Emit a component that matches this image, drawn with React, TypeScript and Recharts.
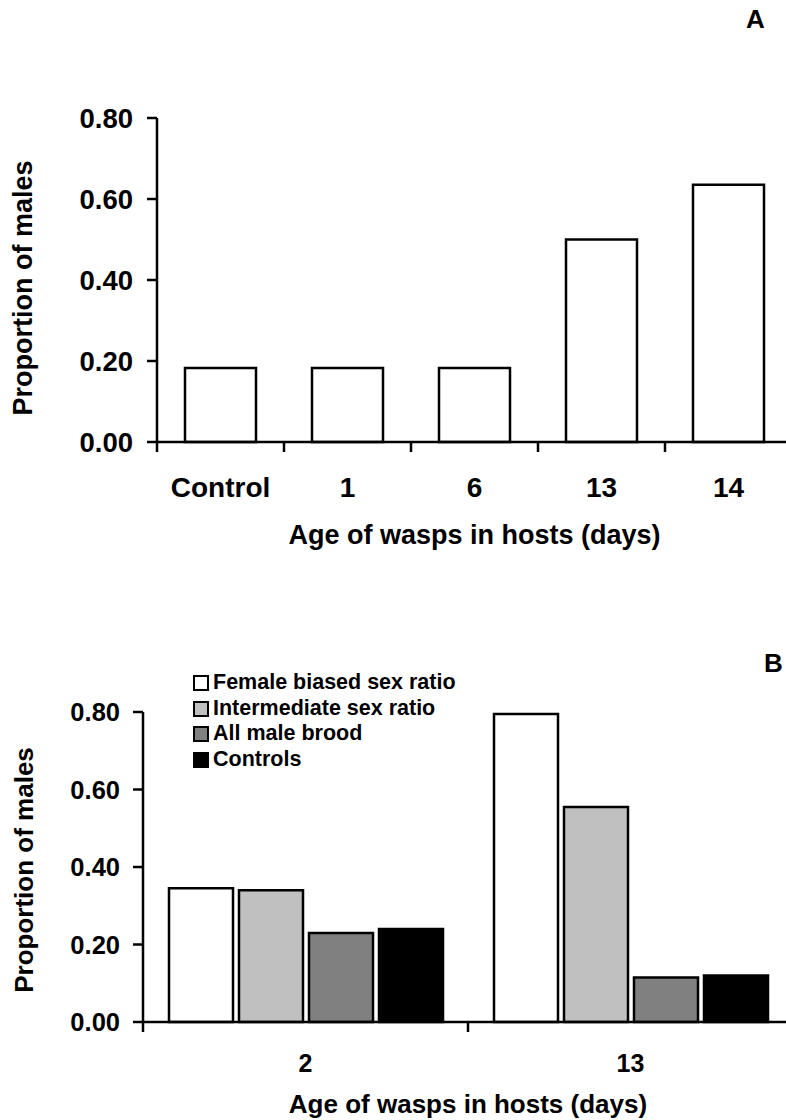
import React from 'react';
import { BarChart, Bar, XAxis, YAxis, Legend, Label } from 'recharts';

const categoriesA = ['Control', '1', '6', '13', '14'];
const proportionA = [0.183, 0.183, 0.183, 0.5, 0.635];

const categoriesB = ['2', '13'];
const femaleBiased = [0.345, 0.795];
const intermediate = [0.34, 0.555];
const allMale = [0.23, 0.115];
const controls = [0.24, 0.12];
const seriesNamesB = ['Female biased sex ratio', 'Intermediate sex ratio', 'All male brood', 'Controls'];
const seriesFillsB = ['#ffffff', '#c0c0c0', '#808080', '#000000'];

const yTicks = [0, 0.2, 0.4, 0.6, 0.8];

const dataA = categoriesA.map((c, i) => ({ cat: c, value: proportionA[i] }));
const dataB = categoriesB.map((c, i) => ({
  cat: c,
  s0: femaleBiased[i],
  s1: intermediate[i],
  s2: allMale[i],
  s3: controls[i],
}));

const FONT = '"Liberation Sans", Arial, Helvetica, sans-serif';
const AX = { stroke: '#000', strokeWidth: 2.5 };

const yTitle = (cx: number, dy: number, fs: number) => (props: any) => {
  const vb = props.viewBox || { x: 0, y: 0, width: 0, height: 0 };
  const x = vb.x + cx;
  const y = vb.y + vb.height / 2 + dy;
  return (
    <text
      x={x}
      y={y}
      transform={`rotate(-90, ${x}, ${y})`}
      textAnchor="middle"
      dominantBaseline="central"
      fontFamily={FONT}
      fontWeight={700}
      fontSize={fs}
      fill="#000"
    >
      Proportion of males
    </text>
  );
};

const xTitle = (baseline: number, fs: number) => (props: any) => {
  const vb = props.viewBox || { x: 0, y: 0, width: 0, height: 0 };
  return (
    <text
      x={vb.x + vb.width / 2}
      y={vb.y + baseline}
      textAnchor="middle"
      fontFamily={FONT}
      fontWeight={700}
      fontSize={fs}
      fill="#000"
    >
      Age of wasps in hosts (days)
    </text>
  );
};

// category tick: label at band centre, tick marks at band boundaries
const makeCatTick = (margin: number, fs: number, count: number) => (props: any) => {
  const { x, y, payload, index } = props;
  const off = payload && typeof payload.offset === 'number' ? payload.offset : 0;
  const axisY = y - margin;
  return (
    <g>
      <line x1={x - off} x2={x - off} y1={axisY} y2={axisY + 10} stroke="#000" strokeWidth={2.5} />
      {index === count - 1 && (
        <line x1={x + off} x2={x + off} y1={axisY} y2={axisY + 10} stroke="#000" strokeWidth={2.5} />
      )}
      <text
        x={x}
        y={y}
        dy="0.71em"
        textAnchor="middle"
        fill="#000"
        fontFamily={FONT}
        fontWeight={700}
        fontSize={fs}
      >
        {payload.value}
      </text>
    </g>
  );
};

const LegendB = () => (
  <div style={{ fontFamily: FONT, fontWeight: 700, fontSize: 21.5, lineHeight: '25.7px', color: '#000' }}>
    {seriesNamesB.map((name, i) => (
      <div key={name} style={{ display: 'flex', alignItems: 'center', whiteSpace: 'nowrap' }}>
        <span
          style={{
            display: 'inline-block',
            width: 12,
            height: 12,
            border: '2.5px solid #000',
            background: seriesFillsB[i],
            marginRight: 4,
          }}
        />
        {name}
      </div>
    ))}
  </div>
);

const tickStyle = (fs: number) => ({ fill: '#000', fontSize: fs, fontWeight: 700, fontFamily: FONT });

export default function App() {
  return (
    <div
      style={{
        position: 'absolute',
        left: 0,
        top: 0,
        width: 786,
        height: 1120,
        overflow: 'hidden',
        background: '#fff',
      }}
    >
      <div
        style={{
          position: 'absolute',
          left: 746,
          top: 4,
          fontFamily: FONT,
          fontWeight: 700,
          fontSize: 26,
          lineHeight: '30px',
        }}
      >
        A
      </div>
      <div
        style={{
          position: 'absolute',
          left: 764,
          top: 648,
          fontFamily: FONT,
          fontWeight: 700,
          fontSize: 26,
          lineHeight: '30px',
        }}
      >
        B
      </div>

      <div style={{ position: 'absolute', left: 0, top: 0 }}>
        <BarChart width={800} height={560} data={dataA} margin={{ top: 118, right: 8, bottom: 0, left: 0 }}>
          <XAxis
            dataKey="cat"
            height={118}
            axisLine={AX}
            tickLine={false}
            tickSize={0}
            tickMargin={35}
            interval={0}
            tick={makeCatTick(35, 28, categoriesA.length)}
          >
            <Label content={xTitle(102, 27)} />
          </XAxis>
          <YAxis
            domain={[0, 0.8]}
            ticks={yTicks}
            width={157}
            tickSize={10}
            tickMargin={14}
            axisLine={AX}
            tickLine={AX}
            tick={tickStyle(27.5)}
            tickFormatter={(v: number) => v.toFixed(2)}
          >
            <Label content={yTitle(23, 8, 27)} />
          </YAxis>
          <Bar
            dataKey="value"
            fill="#ffffff"
            stroke="#000"
            strokeWidth={2.5}
            barSize={71}
            isAnimationActive={false}
          />
        </BarChart>
      </div>

      <div style={{ position: 'absolute', left: 0, top: 560 }}>
        <BarChart
          width={800}
          height={560}
          data={dataB}
          margin={{ top: 152, right: 7, bottom: 0, left: 0 }}
          barGap={6}
        >
          <XAxis
            dataKey="cat"
            height={98}
            axisLine={AX}
            tickLine={false}
            tickSize={0}
            tickMargin={32}
            interval={0}
            tick={makeCatTick(32, 25, categoriesB.length)}
          >
            <Label content={xTitle(91, 26)} />
          </XAxis>
          <YAxis
            domain={[0, 0.8]}
            ticks={yTicks}
            width={143}
            tickSize={10}
            tickMargin={13}
            axisLine={AX}
            tickLine={AX}
            tick={tickStyle(25.5)}
            tickFormatter={(v: number) => v.toFixed(2)}
          >
            <Label content={yTitle(24, 3, 26)} />
          </YAxis>
          <Legend
            layout="vertical"
            align="center"
            verticalAlign="middle"
            content={LegendB}
            wrapperStyle={{ left: 193, top: 110, width: 320 }}
          />
          {seriesNamesB.map((name, i) => (
            <Bar
              key={name}
              dataKey={`s${i}`}
              name={name}
              fill={seriesFillsB[i]}
              stroke="#000"
              strokeWidth={2.5}
              barSize={64}
              isAnimationActive={false}
            />
          ))}
        </BarChart>
      </div>
    </div>
  );
}
